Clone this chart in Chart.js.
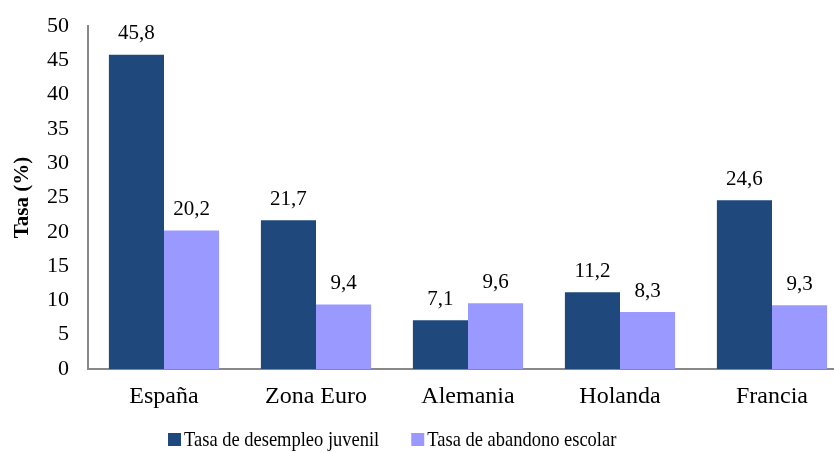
<!DOCTYPE html>
<html>
<head>
<meta charset="utf-8">
<script src="https://cdn.jsdelivr.net/npm/chart.js@4/dist/chart.umd.min.js"></script>
<style>
  html, body { margin: 0; padding: 0; background: #fff; overflow: hidden; }
  #wrap { width: 860px; height: 457px; margin-top: -4px; }
</style>
</head>
<body>
<div id="wrap"><canvas id="c"></canvas></div>
<script>
"use strict"

const categories = ["España", "Zona Euro", "Alemania", "Holanda", "Francia"]
const desempleoJuvenil = [45.8, 21.7, 7.1, 11.2, 24.6]
const abandonoEscolar = [20.2, 9.4, 9.6, 8.3, 9.3]
const seriesNames = ["Tasa de desempleo juvenil", "Tasa de abandono escolar"]

const FONT = "Liberation Serif"
Chart.defaults.font.family = FONT
Chart.defaults.color = "#000"

// draws the values above each bar, decimal comma as in the original
const valueLabels = {
  id: "valueLabels",
  afterDatasetsDraw: function (chart) {
    const ctx = chart.ctx
    ctx.save()
    ctx.font = "21px " + FONT
    ctx.fillStyle = "#000"
    ctx.textAlign = "center"
    ctx.textBaseline = "middle"
    chart.data.datasets.forEach(function (ds, i) {
      chart.getDatasetMeta(i).data.forEach(function (bar, j) {
        ctx.fillText(String(ds.data[j]).replace(".", ","), bar.x, bar.y - 21)
      })
    })
    ctx.restore()
  }
}

// legend along the bottom, square markers; text a bit condensed like the original
const bottomLegend = {
  id: "bottomLegend",
  afterDraw: function (chart) {
    const ctx = chart.ctx
    const sx = 0.88
    ctx.save()
    ctx.font = "21px " + FONT
    ctx.textBaseline = "middle"
    ctx.textAlign = "left"
    let x = 168
    const y = 444
    chart.data.datasets.forEach(function (ds) {
      ctx.fillStyle = ds.backgroundColor
      ctx.fillRect(x, y - 7, 13, 13)
      ctx.fillStyle = "#000"
      ctx.save()
      ctx.translate(x + 16, y)
      ctx.scale(sx, 1)
      ctx.fillText(ds.label, 0, 0)
      ctx.restore()
      x += 16 + ctx.measureText(ds.label).width * sx + 32
    })
    ctx.restore()
  }
}

new Chart(document.getElementById("c"), {
  type: "bar",
  data: {
    labels: categories,
    datasets: [
      { label: seriesNames[0], data: desempleoJuvenil, backgroundColor: "#1f497d" },
      { label: seriesNames[1], data: abandonoEscolar, backgroundColor: "#9999ff" }
    ]
  },
  options: {
    responsive: true,
    maintainAspectRatio: false,
    animation: false,
    categoryPercentage: 0.725,
    barPercentage: 1,
    layout: { padding: { top: 0, right: 12, left: 0, bottom: 29 } },
    scales: {
      x: {
        grid: { display: false, drawTicks: false },
        border: { color: "#888", width: 2 },
        ticks: { font: { family: FONT, size: 24 }, padding: 13 },
        afterFit: function (scale) { scale.height = 55 }
      },
      y: {
        min: 0,
        max: 50,
        ticks: { stepSize: 5, font: { family: FONT, size: 22, lineHeight: 1 }, padding: 19 },
        grid: { display: false, drawTicks: false },
        border: { color: "#888", width: 2 },
        title: {
          display: true,
          text: "Tasa (%)",
          font: { family: FONT, size: 21, weight: "bold" },
          padding: { top: 10, bottom: 0 }
        },
        afterFit: function (scale) { scale.width = 88 }
      }
    },
    plugins: {
      legend: { display: false },
      tooltip: { enabled: false }
    }
  },
  plugins: [valueLabels, bottomLegend]
})
</script>
</body>
</html>
